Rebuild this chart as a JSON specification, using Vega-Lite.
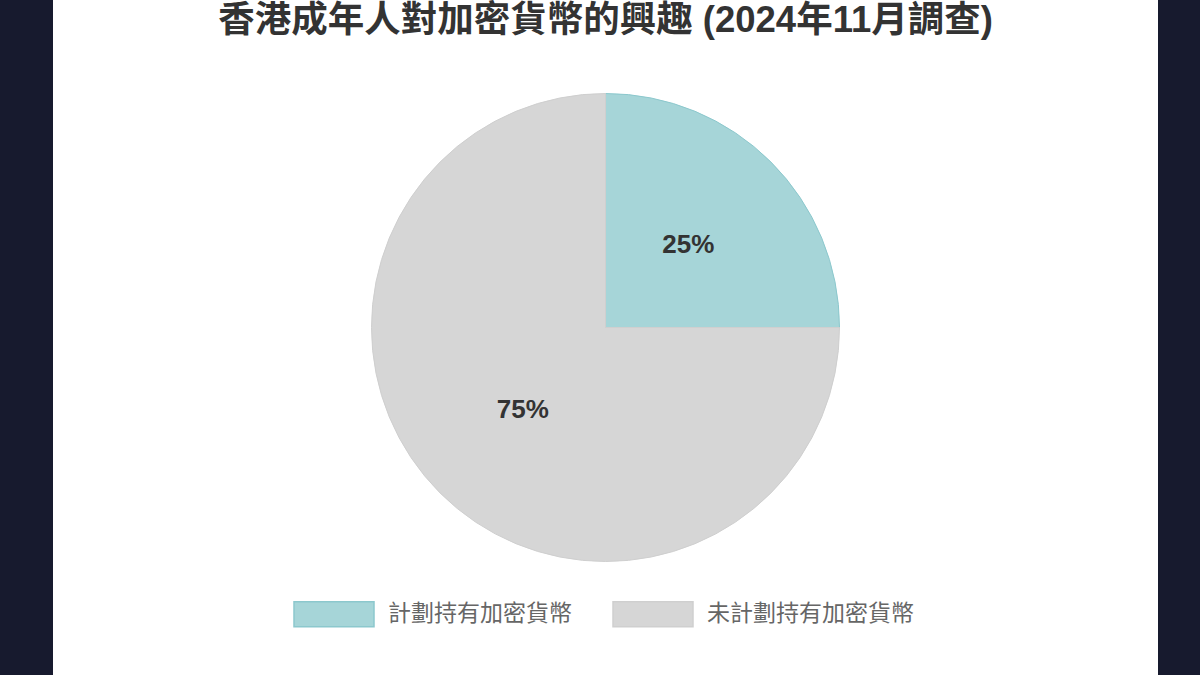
{
  "$schema": "https://vega.github.io/schema/vega-lite/v6.json",
  "autosize": "none",
  "width": 1105,
  "height": 675,
  "padding": {"left": 53, "right": 42, "top": 0, "bottom": 0},
  "background": "#171a2e",
  "view": {"fill": "white", "stroke": null},
  "title": {
    "text": "香港成年人對加密貨幣的興趣 (2024年11月調查)",
    "font": "Liberation Sans, Noto Sans CJK TC",
    "fontSize": 36.5,
    "fontWeight": "bold",
    "color": "#333333",
    "anchor": "middle",
    "baseline": "alphabetic",
    "offset": -33,
    "dy": 35
  },
  "data": {
    "values": [
      {"category": "計劃持有加密貨幣", "value": 25, "label": "25%"},
      {"category": "未計劃持有加密貨幣", "value": 75, "label": "75%"}
    ]
  },
  "encoding": {
    "theta": {"field": "value", "type": "quantitative", "stack": true},
    "order": {"field": "value", "sort": "ascending"}
  },
  "layer": [
    {
      "mark": {"type": "arc", "outerRadius": 234, "strokeWidth": 1, "yOffset": -10},
      "encoding": {
        "color": {
          "field": "category",
          "type": "nominal",
          "scale": {"domain": ["計劃持有加密貨幣", "未計劃持有加密貨幣"], "range": ["#a6d5d8", "#d6d6d6"]},
          "legend": {
            "title": null,
            "orient": "none",
            "direction": "horizontal",
            "legendX": 240,
            "legendY": 573,
            "symbolType": "M-1,-0.3125L1,-0.3125L1,0.3125L-1,0.3125Z",
            "symbolSize": 6400,
            "symbolStrokeWidth": 1.5,
            "labelFont": "Liberation Sans, Noto Sans CJK TC",
            "labelFontSize": 23,
            "labelColor": "#666666",
            "labelOffset": 13,
            "columnPadding": 38,
            "labelLimit": 400
          }
        },
        "stroke": {
          "field": "category",
          "type": "nominal",
          "scale": {"domain": ["計劃持有加密貨幣", "未計劃持有加密貨幣"], "range": ["#8cc8cd", "#cfcfcf"]}
        }
      }
    },
    {
      "mark": {
        "type": "text",
        "radius": 117,
        "yOffset": -10,
        "font": "Liberation Sans, Noto Sans CJK TC",
        "fontSize": 26,
        "fontWeight": "bold",
        "color": "#333333"
      },
      "encoding": {"text": {"field": "label"}}
    }
  ]
}
